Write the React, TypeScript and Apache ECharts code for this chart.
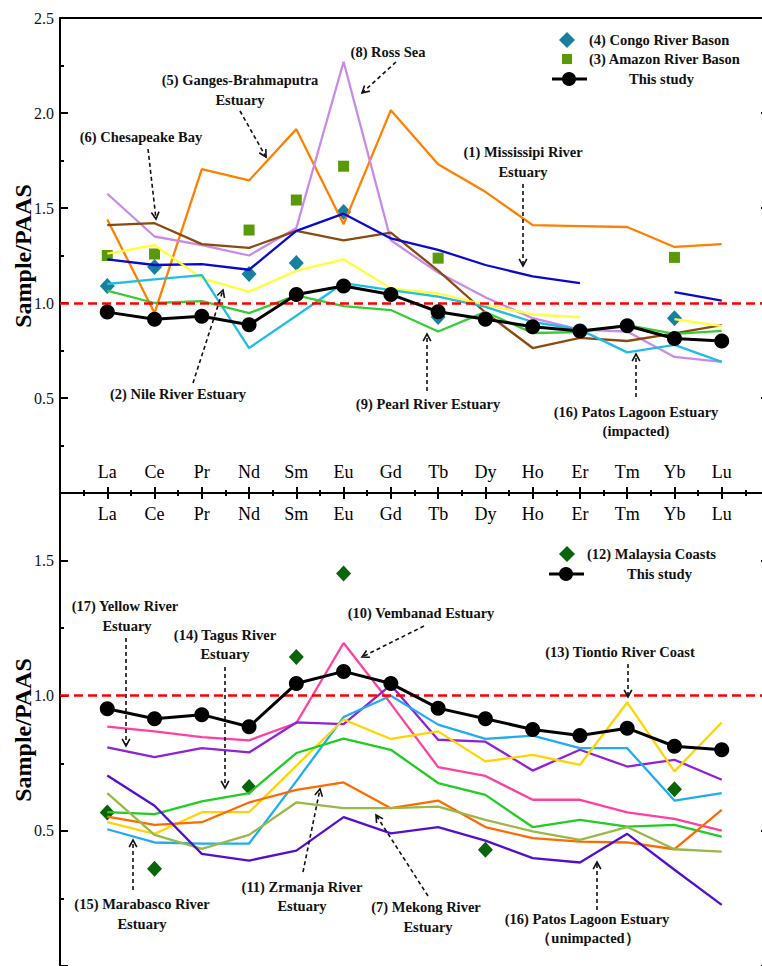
import React, { useEffect, useRef } from 'react';
import * as echarts from 'echarts';

const categories = ['La', 'Ce', 'Pr', 'Nd', 'Sm', 'Eu', 'Gd', 'Tb', 'Dy', 'Ho', 'Er', 'Tm', 'Yb', 'Lu'];

// "This study" (both panels)
const thisStudy = [0.952, 0.915, 0.93, 0.885, 1.045, 1.09, 1.045, 0.954, 0.915, 0.875, 0.853, 0.88, 0.813, 0.8];

// Top panel
const ganges = [1.44, 0.947, 1.705, 1.645, 1.915, 1.415, 2.015, 1.73, 1.585, 1.41, 1.405, 1.4, 1.295, 1.31];
const rossSea = [1.575, 1.35, 1.305, 1.25, 1.395, 2.27, 1.33, 1.16, 1.03, 0.92, 0.86, 0.85, 0.716, 0.69];
const chesapeake = [1.41, 1.42, 1.31, 1.29, 1.38, 1.33, 1.37, 1.17, 0.95, 0.763, 0.816, 0.8, 0.84, 0.884];
const mississippi = [1.23, 1.2, 1.205, 1.175, 1.38, 1.47, 1.34, 1.28, 1.2, 1.14, 1.105, null, 1.057, 1.012];
const nile = [1.26, 1.305, 1.13, 1.06, 1.17, 1.23, 1.077, 1.05, 0.99, 0.94, 0.925, null, 0.915, 0.878];
const patosImpacted = [1.1, 1.124, 1.147, 0.763, 0.933, 1.105, 1.068, 1.033, 0.98, 0.9, 0.86, 0.74, 0.78, 0.69];
const pearl = [1.065, 1.0, 1.01, 0.947, 1.04, 0.984, 0.963, 0.85, 0.953, 0.842, 0.847, 0.884, 0.837, 0.853];
const congo = [1.09, 1.19, null, 1.153, 1.21, 1.479, null, 0.926, null, null, null, null, 0.92, null];
const amazon = [1.25, 1.258, null, 1.384, 1.542, 1.72, null, 1.236, null, null, null, null, 1.24, null];

// Bottom panel
const vembanad = [0.886, 0.868, 0.847, 0.835, 0.899, 1.195, 0.97, 0.736, 0.703, 0.615, 0.615, 0.568, 0.544, 0.501];
const yellowRiver = [0.809, 0.773, 0.806, 0.79, 0.901, 0.895, 1.04, 0.837, 0.83, 0.723, 0.8, 0.738, 0.763, 0.689];
const marabasco = [0.506, 0.457, 0.453, 0.453, 0.684, 0.921, 1.0, 0.893, 0.84, 0.852, 0.806, 0.806, 0.612, 0.64];
const tiontio = [0.532, 0.489, 0.569, 0.569, 0.741, 0.912, 0.84, 0.868, 0.757, 0.781, 0.744, 0.975, 0.72, 0.901];
const tagus = [0.569, 0.562, 0.609, 0.64, 0.788, 0.841, 0.8, 0.677, 0.633, 0.514, 0.541, 0.516, 0.522, 0.479];
const zrmanja = [0.553, 0.522, 0.532, 0.605, 0.652, 0.679, 0.584, 0.612, 0.514, 0.473, 0.46, 0.457, 0.432, 0.578];
const mekong = [0.64, 0.485, 0.433, 0.485, 0.605, 0.584, 0.584, 0.59, 0.541, 0.498, 0.467, 0.514, 0.432, 0.423];
const patosUnimpacted = [0.705, 0.593, 0.415, 0.39, 0.427, 0.551, 0.491, 0.514, 0.464, 0.399, 0.383, 0.489, 0.356, 0.226];
const malaysia = [0.568, 0.36, null, 0.662, 1.143, 1.452, null, null, 0.43, null, null, null, 0.654, null];

const topYTicks = [0.5, 1.0, 1.5, 2.0, 2.5];
const bottomYTicks = [0.5, 1.0, 1.5];
const yAxisTitle = 'Sample/PAAS';

const FONT = '"Liberation Serif", "Times New Roman", serif';

const C = {
  ganges: '#FF8000',
  ross: '#C98AE8',
  chesapeake: '#8B4A0F',
  mississippi: '#0A0ACC',
  nile: '#FFFF3A',
  patosImp: '#1FBEE2',
  pearl: '#35CC35',
  congo: '#16809E',
  amazon: '#5A9A0A',
  vembanad: '#FF40A0',
  yellowRiver: '#8E22D4',
  marabasco: '#20ACF2',
  tiontio: '#FFD400',
  tagus: '#22CC22',
  zrmanja: '#FF6A00',
  mekong: '#99B845',
  patosUn: '#5210CC',
  malaysia: '#0A640A',
};

const toLine = (vals: (number | null)[]) => vals.map((v, i) => [i + 1, v == null ? '-' : v]);
const toPoints = (vals: (number | null)[]) =>
  vals.map((v, i) => (v == null ? null : [i + 1, v])).filter((d) => d !== null);

function lineSeries(name: string, vals: (number | null)[], color: string, panel: number) {
  return {
    name,
    type: 'line',
    xAxisIndex: panel === 0 ? 0 : 2,
    yAxisIndex: panel === 0 ? 0 : 2,
    data: toLine(vals),
    showSymbol: false,
    symbol: 'none',
    connectNulls: false,
    lineStyle: { color, width: 2.3 },
    itemStyle: { color },
    silent: true,
  };
}

function scatterSeries(name: string, vals: (number | null)[], color: string, symbol: string, size: any, panel: number) {
  return {
    name,
    type: 'scatter',
    xAxisIndex: panel === 0 ? 0 : 2,
    yAxisIndex: panel === 0 ? 0 : 2,
    data: toPoints(vals),
    symbol,
    symbolSize: size,
    itemStyle: { color, opacity: 1 },
    silent: true,
  };
}

function studySeries(panel: number) {
  return {
    name: 'This study',
    type: 'line',
    xAxisIndex: panel === 0 ? 0 : 2,
    yAxisIndex: panel === 0 ? 0 : 2,
    data: toLine(thisStudy),
    symbol: 'circle',
    symbolSize: 15,
    showSymbol: true,
    lineStyle: { color: '#000', width: 3 },
    itemStyle: { color: '#000' },
    silent: true,
    z: 5,
    markLine: {
      silent: true,
      symbol: 'none',
      label: { show: false },
      lineStyle: { color: '#FF0000', type: [9, 5], width: 2.5 },
      data: [{ yAxis: 1 }],
    },
  };
}

const tickFmt = (allowed: number[]) => (v: number) =>
  allowed.some((a) => Math.abs(a - v) < 1e-6) ? v.toFixed(1) : '';

const axisLineStyle = { color: '#000', width: 2 };

function xAxisLabeled(gridIndex: number, position: string) {
  return {
    gridIndex,
    type: 'value',
    min: 0,
    max: 15,
    interval: 1,
    position,
    axisLine: { show: true, onZero: false, lineStyle: axisLineStyle },
    axisTick: { show: true, inside: true, length: 6, lineStyle: axisLineStyle },
    minorTick: { show: true, splitNumber: 2, length: 3, lineStyle: axisLineStyle },
    splitLine: { show: false },
    minorSplitLine: { show: false },
    axisLabel: {
      show: true,
      inside: true,
      margin: 12,
      fontSize: 18,
      fontFamily: FONT,
      color: '#000',
      formatter: (v: number) => categories[Math.round(v) - 1] ?? '',
    },
  };
}

function yAxisMain(gridIndex: number, max: number, ticks: number[]) {
  return {
    gridIndex,
    type: 'value',
    min: 0,
    max,
    interval: 0.5,
    position: 'left',
    axisLine: { show: true, onZero: false, lineStyle: axisLineStyle },
    axisTick: { show: true, inside: true, length: 8, lineStyle: axisLineStyle },
    minorTick: { show: false },
    splitLine: { show: false },
    axisLabel: { show: true, margin: 6, fontSize: 16, fontFamily: FONT, color: '#111', formatter: tickFmt(ticks) },
  };
}

function yAxisMinor(gridIndex: number, max: number) {
  return {
    gridIndex,
    type: 'value',
    min: 0,
    max,
    interval: 0.25,
    position: 'left',
    axisLine: { show: false, onZero: false },
    axisTick: { show: true, inside: true, length: 4, lineStyle: axisLineStyle },
    splitLine: { show: false },
    axisLabel: { show: false },
  };
}

function yAxisRight(gridIndex: number, max: number) {
  return {
    gridIndex,
    type: 'value',
    min: 0,
    max,
    interval: 0.5,
    position: 'right',
    axisLine: { show: true, onZero: false, lineStyle: axisLineStyle },
    axisTick: { show: true, inside: true, length: 8, lineStyle: axisLineStyle },
    splitLine: { show: false },
    axisLabel: { show: false },
  };
}

// annotations: text lines with centres, dashed arrow from (x1,y1) to tip (x2,y2)
const annotations = [
  { lines: [['(8) Ross Sea', 388, 52]], arrow: [396, 62, 362, 93] },
  { lines: [['(5) Ganges-Brahmaputra', 240, 80], ['Estuary', 240, 100]], arrow: [240, 111, 266, 157] },
  { lines: [['(6) Chesapeake Bay', 141, 137]], arrow: [148, 149, 156, 219] },
  { lines: [['(1) Mississipi River', 523, 152], ['Estuary', 523, 172]], arrow: [523, 184, 523, 266] },
  { lines: [['(2) Nile River Estuary', 178, 394]], arrow: [193, 383, 223, 290] },
  { lines: [['(9) Pearl River Estuary', 428, 404]], arrow: [427, 391, 427, 334] },
  { lines: [['(16) Patos Lagoon Estuary', 636, 412], ['(impacted)', 636, 431]], arrow: [636, 397, 636, 354] },
  { lines: [['(17) Yellow River', 125, 606], ['Estuary', 127, 626]], arrow: [126, 638, 126, 746] },
  { lines: [['(14) Tagus River', 225, 635], ['Estuary', 225, 654]], arrow: [225, 667, 225, 788] },
  { lines: [['(10) Vembanad Estuary', 421, 613]], arrow: [424, 626, 362, 657] },
  { lines: [['(13) Tiontio River Coast', 620, 652]], arrow: [628, 664, 628, 697] },
  { lines: [['(15) Marabasco River', 142, 904], ['Estuary', 142, 924]], arrow: [133, 890, 133, 840] },
  { lines: [['(11) Zrmanja River', 302, 887], ['Estuary', 302, 906]], arrow: [303, 872, 320, 789] },
  { lines: [['(7) Mekong River', 426, 907], ['Estuary', 428, 927]], arrow: [428, 896, 376, 815] },
  { lines: [['(16) Patos Lagoon Estuary', 587, 919], ['（unimpacted）', 588, 938]], arrow: [597, 910, 597, 862] },
];

function textEl(text: string, x: number, y: number, align: string = 'center') {
  return {
    type: 'text',
    x,
    y,
    silent: true,
    z: 20,
    style: {
      text,
      fontSize: 14.5,
      fontWeight: 'bold',
      fontFamily: FONT,
      fill: '#111',
      align,
      textAlign: align,
      verticalAlign: 'middle',
      textVerticalAlign: 'middle',
    },
  };
}

function axisTitleEl(y: number) {
  return {
    type: 'text',
    x: 23,
    y,
    rotation: Math.PI / 2,
    silent: true,
    z: 20,
    style: {
      text: yAxisTitle,
      fontSize: 24,
      fontWeight: 'bold',
      fontFamily: FONT,
      fill: '#000',
      align: 'center',
      textAlign: 'center',
      verticalAlign: 'middle',
      textVerticalAlign: 'middle',
    },
  };
}

function arrowEls(x1: number, y1: number, x2: number, y2: number) {
  const a = Math.atan2(y2 - y1, x2 - x1);
  const L = 8;
  const th = 0.5;
  const p1 = [x2 - L * Math.cos(a - th), y2 - L * Math.sin(a - th)];
  const p2 = [x2 - L * Math.cos(a + th), y2 - L * Math.sin(a + th)];
  return [
    {
      type: 'line',
      silent: true,
      z: 20,
      shape: { x1, y1, x2, y2 },
      style: { stroke: '#111', lineWidth: 1.6, lineDash: [4, 3] },
    },
    {
      type: 'polyline',
      silent: true,
      z: 20,
      shape: { points: [p1, [x2, y2], p2] },
      style: { stroke: '#111', lineWidth: 1.6, fill: 'none' },
    },
  ];
}

function buildGraphic() {
  const els: any[] = [];
  els.push(axisTitleEl(256));
  els.push(axisTitleEl(730));
  annotations.forEach((an: any) => {
    an.lines.forEach((l: any) => els.push(textEl(l[0], l[1], l[2])));
    const [x1, y1, x2, y2] = an.arrow;
    els.push(...arrowEls(x1, y1, x2, y2));
  });
  // Legend (top)
  els.push({
    type: 'polygon', silent: true, z: 20,
    shape: { points: [[567, 32], [575, 40], [567, 48], [559, 40]] },
    style: { fill: C.congo },
  });
  els.push(textEl('(4) Congo River Bason', 589, 40, 'left'));
  els.push({ type: 'rect', silent: true, z: 20, shape: { x: 562, y: 54, width: 10, height: 10 }, style: { fill: C.amazon } });
  els.push(textEl('(3) Amazon River Bason', 589, 59, 'left'));
  els.push({ type: 'line', silent: true, z: 20, shape: { x1: 552, y1: 79, x2: 587, y2: 79 }, style: { stroke: '#000', lineWidth: 3 } });
  els.push({ type: 'circle', silent: true, z: 20, shape: { cx: 569, cy: 79, r: 7 }, style: { fill: '#000' } });
  els.push(textEl('This study', 629, 79, 'left'));
  // Legend (bottom)
  els.push({
    type: 'polygon', silent: true, z: 20,
    shape: { points: [[567, 546], [575, 554], [567, 562], [559, 554]] },
    style: { fill: C.malaysia },
  });
  els.push(textEl('(12) Malaysia Coasts', 587, 554, 'left'));
  els.push({ type: 'line', silent: true, z: 20, shape: { x1: 549, y1: 574, x2: 584, y2: 574 }, style: { stroke: '#000', lineWidth: 3 } });
  els.push({ type: 'circle', silent: true, z: 20, shape: { cx: 566, cy: 574, r: 7 }, style: { fill: '#000' } });
  els.push(textEl('This study', 627, 574, 'left'));
  return els;
}

const option: any = {
  animation: false,
  backgroundColor: '#fff',
  grid: [
    { left: 60, top: 18, width: 709, height: 475, containLabel: false, outerBoundsMode: 'none' },
    { left: 60, top: 493, width: 709, height: 473, containLabel: false, outerBoundsMode: 'none' },
  ],
  xAxis: [
    xAxisLabeled(0, 'bottom'),
    {
      gridIndex: 0, type: 'value', min: 0, max: 15, position: 'top',
      axisLine: { show: true, onZero: false, lineStyle: axisLineStyle },
      axisTick: { show: false }, axisLabel: { show: false }, splitLine: { show: false },
    },
    xAxisLabeled(1, 'top'),
  ],
  yAxis: [
    yAxisMain(0, 2.5, topYTicks),
    yAxisRight(0, 2.5),
    yAxisMain(1, 1.75, bottomYTicks),
    yAxisMinor(1, 1.75),
    yAxisRight(1, 1.75),
    yAxisMinor(0, 2.5),
  ],
  series: [
    lineSeries('(5) Ganges-Brahmaputra Estuary', ganges, C.ganges, 0),
    lineSeries('(8) Ross Sea', rossSea, C.ross, 0),
    lineSeries('(6) Chesapeake Bay', chesapeake, C.chesapeake, 0),
    lineSeries('(1) Mississipi River Estuary', mississippi, C.mississippi, 0),
    lineSeries('(2) Nile River Estuary', nile, C.nile, 0),
    lineSeries('(16) Patos Lagoon Estuary (impacted)', patosImpacted, C.patosImp, 0),
    lineSeries('(9) Pearl River Estuary', pearl, C.pearl, 0),
    scatterSeries('(3) Amazon River Bason', amazon, C.amazon, 'rect', 11, 0),
    scatterSeries('(4) Congo River Bason', congo, C.congo, 'diamond', [15, 16], 0),
    studySeries(0),

    lineSeries('(10) Vembanad Estuary', vembanad, C.vembanad, 1),
    lineSeries('(17) Yellow River Estuary', yellowRiver, C.yellowRiver, 1),
    lineSeries('(15) Marabasco River Estuary', marabasco, C.marabasco, 1),
    lineSeries('(13) Tiontio River Coast', tiontio, C.tiontio, 1),
    lineSeries('(14) Tagus River Estuary', tagus, C.tagus, 1),
    lineSeries('(11) Zrmanja River Estuary', zrmanja, C.zrmanja, 1),
    lineSeries('(7) Mekong River Estuary', mekong, C.mekong, 1),
    lineSeries('(16) Patos Lagoon Estuary (unimpacted)', patosUnimpacted, C.patosUn, 1),
    scatterSeries('(12) Malaysia Coasts', malaysia, C.malaysia, 'diamond', [15, 16], 1),
    studySeries(1),
  ],
  graphic: buildGraphic(),
};

export default function App() {
  const ref = useRef<HTMLDivElement>(null);
  useEffect(() => {
    if (!ref.current) return;
    const chart = echarts.init(ref.current, null, { renderer: 'svg' });
    chart.setOption(option);
    return () => chart.dispose();
  }, []);
  return (
    <div
      ref={ref}
      style={{ position: 'absolute', left: 0, top: 0, width: 762, height: 966, background: '#fff' }}
    />
  );
}
